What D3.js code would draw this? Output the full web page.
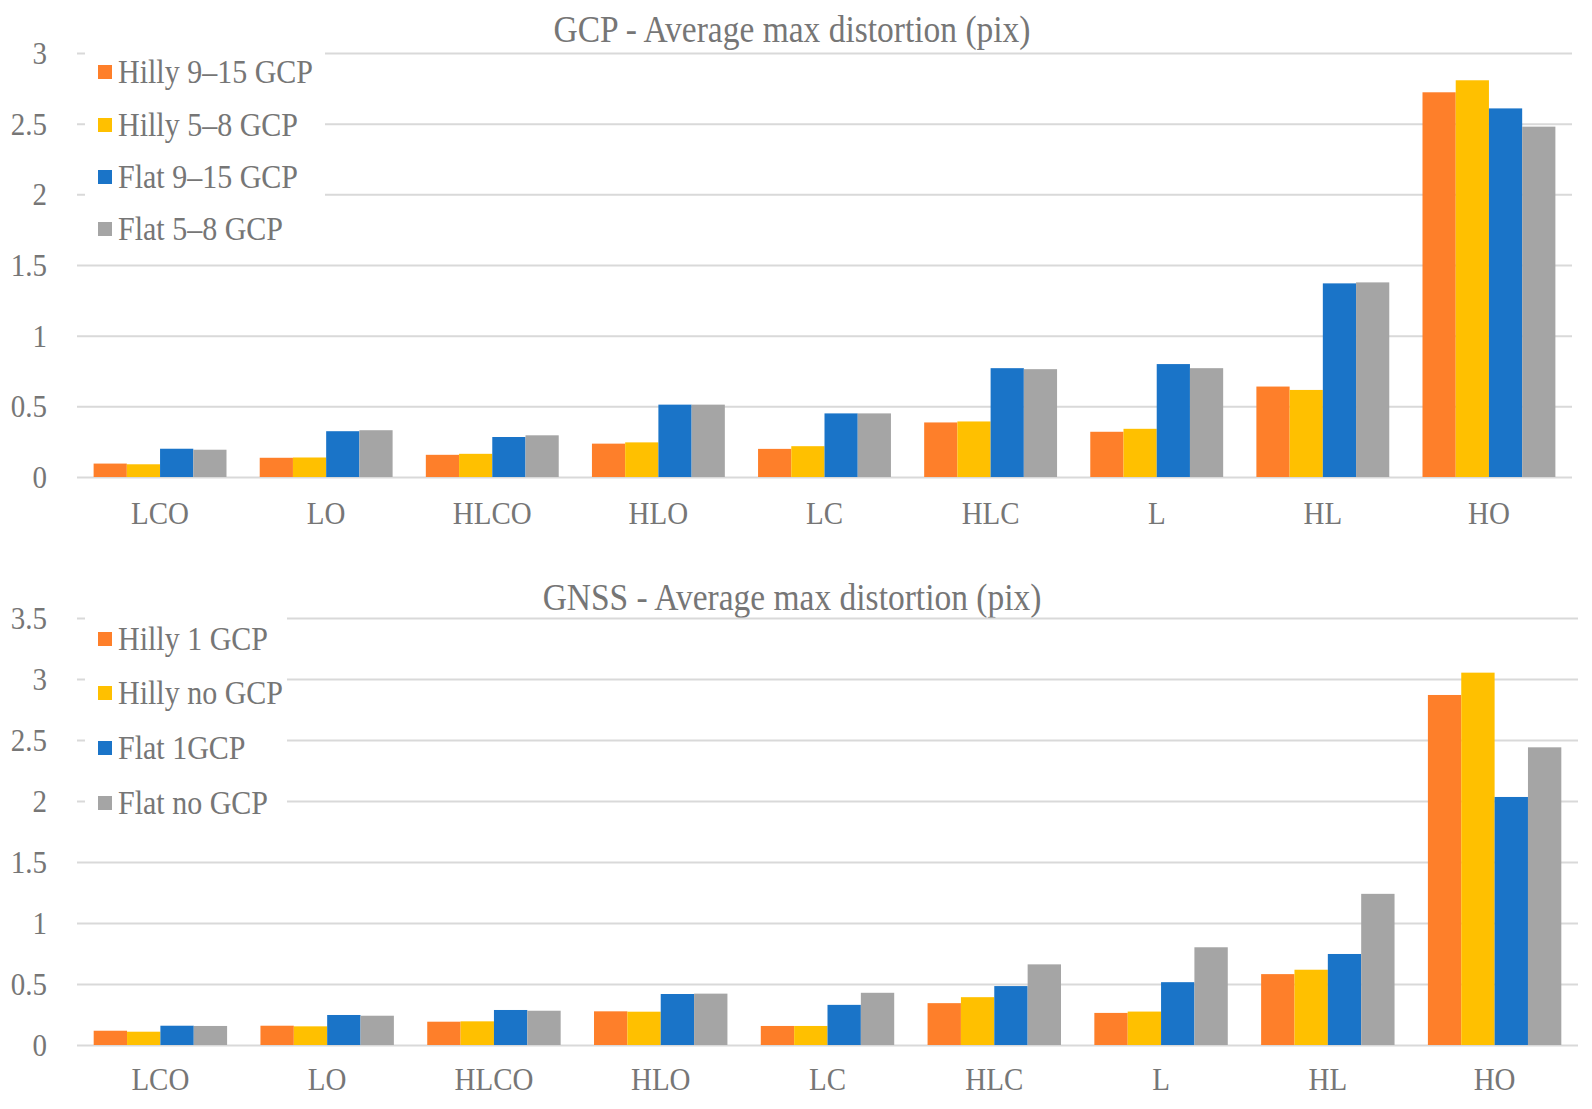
<!DOCTYPE html>
<html>
<head>
<meta charset="utf-8">
<script src="https://cdn.jsdelivr.net/npm/d3@7"></script>
<style>
  body { margin: 0; background: #fff; }
  text { font-family: "Liberation Serif", "Times New Roman", serif; fill: #767676; }
</style>
</head>
<body>
<div id="root"></div>
<script>
// categories shared by both panels
const categories = ["LCO", "LO", "HLCO", "HLO", "LC", "HLC", "L", "HL", "HO"];

// GCP panel
const gcpSeries = ["Hilly 9–15 GCP", "Hilly 5–8 GCP", "Flat 9–15 GCP", "Flat 5–8 GCP"];
const gcpHilly915 = [0.095, 0.136, 0.157, 0.236, 0.199, 0.386, 0.320, 0.640, 2.722];
const gcpHilly58  = [0.090, 0.138, 0.164, 0.245, 0.218, 0.393, 0.341, 0.616, 2.807];
const gcpFlat915  = [0.200, 0.324, 0.283, 0.512, 0.450, 0.770, 0.799, 1.370, 2.608];
const gcpFlat58   = [0.193, 0.331, 0.295, 0.512, 0.450, 0.763, 0.770, 1.377, 2.479];
const gcpTicks = [0, 0.5, 1, 1.5, 2, 2.5, 3];

// GNSS panel
const gnssSeries = ["Hilly 1 GCP", "Hilly no GCP", "Flat 1GCP", "Flat no GCP"];
const gnssHilly1   = [0.117, 0.158, 0.191, 0.276, 0.156, 0.343, 0.263, 0.581, 2.869];
const gnssHillyNo  = [0.109, 0.153, 0.194, 0.273, 0.156, 0.392, 0.274, 0.617, 3.052];
const gnssFlat1    = [0.158, 0.246, 0.287, 0.418, 0.329, 0.483, 0.515, 0.746, 2.033];
const gnssFlatNo   = [0.156, 0.240, 0.281, 0.421, 0.428, 0.661, 0.801, 1.239, 2.440];
const gnssTicks = [0, 0.5, 1, 1.5, 2, 2.5, 3, 3.5];

const colors = ["#FE7F2A", "#FFC000", "#1A74C8", "#A5A5A5"];

const W = 1592, H = 1109;
const STRETCH = 1.12; // text in the source is a bit taller than wide

const svg = d3.select("#root").append("svg")
  .attr("width", W).attr("height", H);

// move x/y into a transform so the glyphs can be stretched vertically
function stretch(sel) {
  sel.each(function() {
    const t = d3.select(this);
    const x = +t.attr("x") || 0, y = +t.attr("y") || 0;
    t.attr("x", 0).attr("y", 0)
      .attr("transform", "translate(" + x + "," + y + ") scale(1," + STRETCH + ")");
  });
}

function drawPanel(p) {
  const g = svg.append("g");

  const x = d3.scaleBand().domain(categories)
    .range([p.left, p.right]).paddingInner(0.2).paddingOuter(0.1);
  const x1 = d3.scaleBand().domain(d3.range(p.series.length))
    .range([0, x.bandwidth()]);
  const y = d3.scaleLinear().domain([0, d3.max(p.ticks)])
    .range([p.bottom, p.top]);

  // title
  g.append("text")
    .attr("x", 792).attr("y", p.titleY)
    .attr("text-anchor", "middle")
    .attr("dominant-baseline", "central")
    .style("font-size", "33.5px")
    .text(p.title)
    .call(stretch);

  // gridlines + y labels
  const yAxis = g.append("g")
    .attr("transform", "translate(" + p.left + ",0)")
    .call(d3.axisLeft(y).tickValues(p.ticks)
      .tickSize(-(p.right - p.left)).tickPadding(30)
      .tickFormat(d => String(d)));
  yAxis.select(".domain").remove();
  yAxis.selectAll("line").attr("stroke", "#D9D9D9").attr("stroke-width", 2);
  yAxis.selectAll("text")
    .attr("fill", "#767676")
    .attr("dy", null)
    .attr("dominant-baseline", "central")
    .style("font-size", "29px")
    .style("font-family", "Liberation Serif")
    .call(stretch);

  // legend backdrop hides the gridlines behind it
  g.append("rect")
    .attr("x", 85).attr("y", p.legendY[0] - 28)
    .attr("width", p.legendW).attr("height", p.legendY[3] - p.legendY[0] + 56)
    .attr("fill", "#fff");

  // bars
  const groups = g.selectAll(".grp")
    .data(categories)
    .enter().append("g")
    .attr("class", "grp")
    .attr("transform", d => "translate(" + x(d) + ",0)");

  groups.selectAll("rect")
    .data((c, i) => p.values.map((s, k) => ({ k: k, v: s[i] })))
    .enter().append("rect")
    .attr("x", d => x1(d.k))
    .attr("y", d => y(d.v))
    .attr("width", x1.bandwidth())
    .attr("height", d => y(0) - y(d.v))
    .attr("fill", d => colors[d.k]);

  // x labels
  const xAxis = g.append("g")
    .attr("transform", "translate(0," + p.bottom + ")")
    .call(d3.axisBottom(x).tickSize(0).tickPadding(p.xPad));
  xAxis.select(".domain").remove();
  xAxis.selectAll("text")
    .attr("fill", "#767676")
    .attr("dy", null)
    .attr("dominant-baseline", "central")
    .style("font-size", "29px")
    .style("font-family", "Liberation Serif")
    .call(stretch);

  // legend
  const leg = g.selectAll(".leg")
    .data(p.series)
    .enter().append("g")
    .attr("class", "leg")
    .attr("transform", (d, i) => "translate(98," + p.legendY[i] + ")");
  leg.append("rect")
    .attr("x", 0).attr("y", -7)
    .attr("width", 14).attr("height", 14)
    .attr("fill", (d, i) => colors[i]);
  leg.append("text")
    .attr("x", 20).attr("y", 0)
    .attr("dominant-baseline", "central")
    .style("font-size", "30px")
    .text(d => d)
    .call(stretch);
}

drawPanel({
  title: "GCP - Average max distortion (pix)",
  titleY: 29,
  series: gcpSeries,
  values: [gcpHilly915, gcpHilly58, gcpFlat915, gcpFlat58],
  ticks: gcpTicks,
  left: 77, right: 1572, top: 53, bottom: 477,
  xPad: 36,
  legendY: [72, 125, 177, 229],
  legendW: 240
});

drawPanel({
  title: "GNSS - Average max distortion (pix)",
  titleY: 597,
  series: gnssSeries,
  values: [gnssHilly1, gnssHillyNo, gnssFlat1, gnssFlatNo],
  ticks: gnssTicks,
  left: 77, right: 1578, top: 618, bottom: 1045,
  xPad: 34,
  legendY: [639, 693, 748, 803],
  legendW: 202
});
</script>
</body>
</html>
